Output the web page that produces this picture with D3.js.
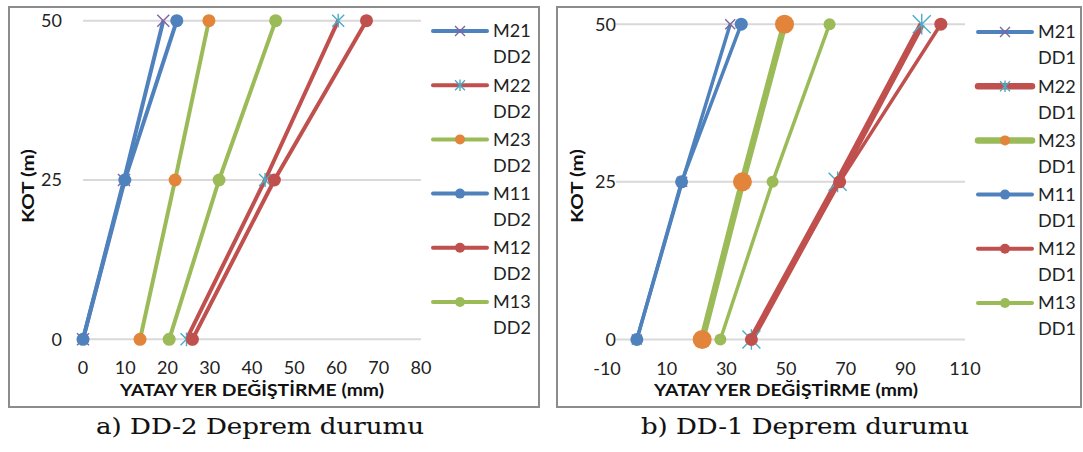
<!DOCTYPE html>
<html>
<head>
<meta charset="utf-8">
<script src="https://cdn.jsdelivr.net/npm/d3@7"></script>
<style>
  html, body { margin: 0; padding: 0; background: #fff; }
  svg { display: block; }
  .tick-label { font-family: Lato, "Open Sans", sans-serif; font-size: 18px; fill: #222; }
  .axis-title { font-family: Lato, "Open Sans", sans-serif; font-size: 17px; font-weight: 700; fill: #111; }
  .legend-label { font-family: Lato, "Open Sans", sans-serif; font-size: 18px; fill: #222; }
  .caption { font-family: "DejaVu Serif", "Liberation Serif", serif; font-size: 22px; fill: #111; stroke: #111; stroke-width: 0.1px; }
</style>
</head>
<body>
<svg id="chart" width="1083" height="452"></svg>
<script>
// Elevation levels (m)
const kot = [0, 25, 50];

// Horizontal displacement (mm), DD-2 earthquake level
const m21_dd2 = [0, 9.7, 19.0];
const m22_dd2 = [24.5, 43.1, 60.4];
const m23_dd2 = [13.5, 21.8, 29.8];
const m11_dd2 = [0, 9.9, 22.2];
const m12_dd2 = [25.9, 45.3, 67.1];
const m13_dd2 = [20.4, 32.2, 45.6];

// Horizontal displacement (mm), DD-1 earthquake level
const m21_dd1 = [0, 15.2, 31.3];
const m22_dd1 = [38.4, 67.3, 95.5];
const m23_dd1 = [21.9, 35.4, 49.5];
const m11_dd1 = [0, 15.0, 35.0];
const m12_dd1 = [38.4, 68.0, 101.9];
const m13_dd1 = [28.0, 45.5, 64.6];

const seriesNames = ["M21", "M22", "M23", "M11", "M12", "M13"];
const ticksY = [0, 25, 50];
const ticksX_dd2 = [0, 10, 20, 30, 40, 50, 60, 70, 80];
const ticksX_dd1 = [-10, 10, 30, 50, 70, 90, 110];
const xTitle = "YATAY YER DEĞİŞTİRME (mm)";
const yTitle = "KOT (m)";
const caption_dd2 = "a) DD-2 Deprem durumu";
const caption_dd1 = "b) DD-1 Deprem durumu";

const C = {
  blue: "#4F81BD", red: "#C0504D", green: "#9BBB59",
  purple: "#8064A2", aqua: "#4BACC6", orange: "#E2843A"
};

// line colour, marker type, marker colour per series (same order as seriesNames)
const styleBase = [
  { line: C.blue,  marker: "x",    mcol: C.purple },
  { line: C.red,   marker: "star", mcol: C.aqua },
  { line: C.green, marker: "dot",  mcol: C.orange },
  { line: C.blue,  marker: "dot",  mcol: C.blue },
  { line: C.red,   marker: "dot",  mcol: C.red },
  { line: C.green, marker: "dot",  mcol: C.green }
];

const svg = d3.select("#chart");

function drawMarker(g, type, color, cx, cy, size) {
  if (type === "dot") {
    g.append("circle").attr("cx", cx).attr("cy", cy).attr("r", size).attr("fill", color);
  } else if (type === "x") {
    const s = size;
    g.append("path")
      .attr("d", `M${cx - s},${cy - s}L${cx + s},${cy + s}M${cx - s},${cy + s}L${cx + s},${cy - s}`)
      .attr("stroke", color).attr("stroke-width", 1.4).attr("fill", "none");
  } else if (type === "star") {
    const s = size;
    g.append("path")
      .attr("d", `M${cx - s},${cy - s}L${cx + s},${cy + s}M${cx - s},${cy + s}L${cx + s},${cy - s}M${cx},${cy - s * 1.15}L${cx},${cy + s * 1.15}`)
      .attr("stroke", color).attr("stroke-width", 1.4).attr("fill", "none");
  }
}

function drawChart(cfg) {
  const g = svg.append("g");

  // chart frame
  g.append("rect")
    .attr("x", cfg.frame[0]).attr("y", cfg.frame[1])
    .attr("width", cfg.frame[2] - cfg.frame[0]).attr("height", cfg.frame[3] - cfg.frame[1])
    .attr("fill", "#fff").attr("stroke", "#8c8c8c").attr("stroke-width", 2);

  const x = d3.scaleLinear().domain(cfg.xDomain).range(cfg.xRange);
  const y = d3.scaleLinear().domain([0, 50]).range(cfg.yRange);

  // horizontal gridlines
  g.append("g").selectAll("line").data(ticksY).join("line")
    .attr("x1", x(cfg.xDomain[0])).attr("x2", x(cfg.xDomain[1]))
    .attr("y1", d => y(d)).attr("y2", d => y(d))
    .attr("stroke", "#d9d9d9").attr("stroke-width", 2);

  // y tick labels sit next to the vertical axis, which crosses at x = 0
  const yLab = g.append("g");
  ticksY.forEach(t => {
    const tx = x(0) - 21;
    const txt = yLab.append("text").attr("class", "tick-label")
      .attr("x", tx).attr("y", y(t)).attr("dy", "0.36em")
      .attr("text-anchor", "end").text(t);
    if (cfg.xDomain[0] < 0) {
      const bb = txt.node().getBBox();
      yLab.insert("rect", "text").attr("x", bb.x - 2).attr("y", bb.y)
        .attr("width", tx - bb.x + 2).attr("height", bb.height).attr("fill", "#fff");
    }
  });

  // x tick labels
  g.append("g").selectAll("text").data(cfg.ticksX).join("text")
    .attr("class", "tick-label")
    .attr("x", d => x(d)).attr("y", cfg.xLabelY).attr("dy", "0.36em")
    .attr("text-anchor", "middle").text(d => d);

  // axis titles
  g.append("text").attr("class", "axis-title")
    .attr("x", (cfg.xRange[0] + cfg.xRange[1]) / 2).attr("y", cfg.xTitleY)
    .attr("dy", "0.36em").attr("text-anchor", "middle")
    .attr("textLength", 264).attr("lengthAdjust", "spacingAndGlyphs")
    .text(xTitle);
  g.append("text").attr("class", "axis-title")
    .attr("transform", `translate(${cfg.yTitleX},${cfg.yTitleCY}) rotate(-90)`)
    .attr("dy", "0.36em").attr("text-anchor", "middle")
    .attr("textLength", 74).attr("lengthAdjust", "spacingAndGlyphs")
    .text(yTitle);

  // series lines and markers
  const line = d3.line().x(d => x(d[0])).y(d => y(d[1]));
  cfg.series.forEach((vals, i) => {
    const st = cfg.styles[i];
    const pts = vals.map((v, k) => [v, kot[k]]);
    const sg = g.append("g");
    sg.append("path").datum(pts).attr("d", line)
      .attr("fill", "none").attr("stroke", st.line)
      .attr("stroke-width", st.lw).attr("stroke-linejoin", "round");
    pts.forEach(p => drawMarker(sg, st.marker, st.mcol, x(p[0]), y(p[1]), st.ms));
  });

  // legend
  const lg = g.append("g");
  seriesNames.forEach((name, i) => {
    const st = cfg.styles[i];
    const cy = cfg.legendY0 + i * cfg.legendStep;
    lg.append("line").attr("x1", cfg.legendX).attr("x2", cfg.legendX + 54)
      .attr("y1", cy).attr("y2", cy)
      .attr("stroke", st.line).attr("stroke-width", st.llw).attr("stroke-linecap", "round");
    drawMarker(lg, st.marker, st.mcol, cfg.legendX + 27, cy, st.lms);
    lg.append("text").attr("class", "legend-label")
      .attr("x", cfg.legendX + 60).attr("y", cy).attr("dy", "0.36em").text(name);
    lg.append("text").attr("class", "legend-label")
      .attr("x", cfg.legendX + 60).attr("y", cy + 26).attr("dy", "0.36em").text(cfg.tag);
  });

  // caption under the chart
  svg.append("text").attr("class", "caption")
    .attr("x", cfg.captionX).attr("y", 434).attr("text-anchor", "middle")
    .attr("textLength", 328).attr("lengthAdjust", "spacingAndGlyphs")
    .text(cfg.caption);
}

const stylesDD2 = styleBase.map(s => Object.assign({}, s, {
  lw: 4, llw: 4,
  ms: s.marker === "dot" ? 6.5 : 6,
  lms: 5
}));

const stylesDD1 = styleBase.map((s, i) => {
  const thick = (i === 1 || i === 2);
  let ms = 6.5;
  if (s.marker === "x") ms = 5;
  if (s.marker === "star") ms = 9;
  if (i === 2) ms = 9.5;
  if (i === 5) ms = 6;
  return Object.assign({}, s, {
    lw: thick ? 6.5 : 3.5,
    llw: thick ? 6.5 : 4,
    ms: ms,
    lms: 5
  });
});

drawChart({
  frame: [9, 7, 539, 407],
  xDomain: [0, 80], xRange: [83, 421], yRange: [339.3, 20.7],
  ticksX: ticksX_dd2, xLabelY: 368, xTitleY: 390,
  yTitleX: 28, yTitleCY: 186,
  series: [m21_dd2, m22_dd2, m23_dd2, m11_dd2, m12_dd2, m13_dd2],
  styles: stylesDD2,
  legendX: 433, legendY0: 31, legendStep: 54.2, tag: "DD2",
  caption: caption_dd2, captionX: 260
});

drawChart({
  frame: [557, 7, 1081, 407],
  xDomain: [-10, 110], xRange: [607, 965], yRange: [339.5, 24.2],
  ticksX: ticksX_dd1, xLabelY: 369, xTitleY: 390,
  yTitleX: 577, yTitleCY: 186,
  series: [m21_dd1, m22_dd1, m23_dd1, m11_dd1, m12_dd1, m13_dd1],
  styles: stylesDD1,
  legendX: 978, legendY0: 32, legendStep: 54.2, tag: "DD1",
  caption: caption_dd1, captionX: 805
});
</script>
</body>
</html>
